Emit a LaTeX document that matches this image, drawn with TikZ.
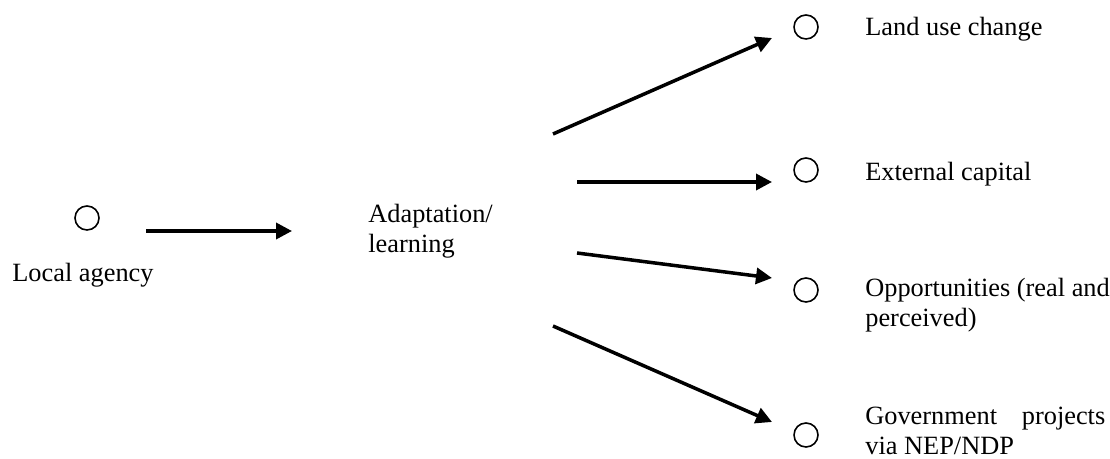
\documentclass[tikz,border=0pt]{standalone}
\usepackage{fontspec}
\setmainfont{Liberation Serif}
\usepackage{tikz}
\usetikzlibrary{arrows.meta, positioning}

\begin{document}
\begin{tikzpicture}[
    x=0.02cm, y=-0.02cm,
    font=\fontsize{15}{17.6}\selectfont,
    dot/.style={draw, circle, line width=0.9pt, minimum size=0.48cm, inner sep=0pt},
    label/.style={inner sep=0pt, anchor=base west, align=left},
    flow/.style={-{Triangle[length=0.32cm, width=0.32cm]}, line width=2pt}
]
    \useasboundingbox (0,0) rectangle (1110,459);

    % Local agency
    \node[dot] (agency) at (87,218) {};
    \node[label] (agencytxt) at (12,282) {Local agency};

    % Adaptation (base = last line)
    \node[label] (adapt) at (368,253) {Adaptation/\\learning};

    % Outcomes
    \node[dot] (land) at (806,27) {};
    \node[label] (landtxt) at (865,36) {Land use change};
    \node[dot] (capital) at (806,170) {};
    \node[label] (capitaltxt) at (865,181) {External capital};
    \node[dot] (opport) at (806,290) {};
    \node[label] (opporttxt) at (865,327) {Opportunities (real and\\perceived)};
    \node[dot] (govt) at (806,435) {};
    \node[label] (govttxt) at (865,455) {\makebox[4.8cm][s]{Government projects}\\via NEP/NDP};

    % Arrow ends
    \coordinate (a0) at (146,231);
    \coordinate (b0) at (292,231);
    \coordinate (a1) at (553,134);
    \coordinate (b1) at (772,38);
    \coordinate (a2) at (577,182);
    \coordinate (b2) at (772,182);
    \coordinate (a3) at (577,253);
    \coordinate (b3) at (772,278);
    \coordinate (a4) at (553,326);
    \coordinate (b4) at (772,422);

    % Connections
    \draw[flow] (a0) -- (b0);
    \draw[flow] (a1) -- (b1);
    \draw[flow] (a2) -- (b2);
    \draw[flow] (a3) -- (b3);
    \draw[flow] (a4) -- (b4);
\end{tikzpicture}
\end{document}
